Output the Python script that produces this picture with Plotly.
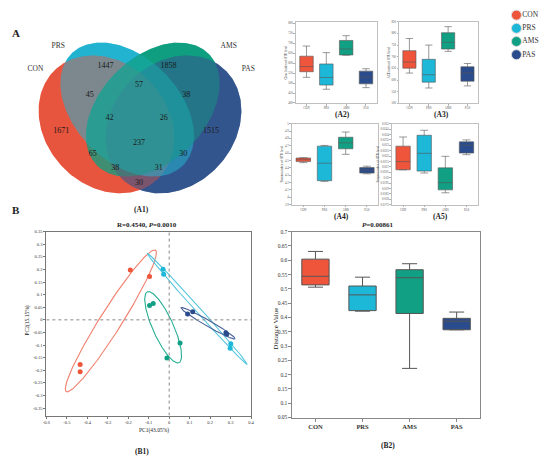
import numpy as np
import plotly.graph_objects as go

W, H = 550, 463
FONT = "Liberation Serif"

groups = ["CON", "PRS", "AMS", "PAS"]
group_colors = ["#EE553B", "#1DB7D8", "#11A083", "#2B4C8C"]

# ---------------- Venn (A1) ----------------
venn_counts = [1671, 1447, 1858, 1515, 45, 57, 38, 65, 30, 30, 42, 26, 237, 38, 31]
venn_label_x = [58, 103, 167, 210, 87, 137, 185, 90, 182, 137, 107, 162, 137, 113, 157]
venn_label_y = [130, 64, 64, 130, 93, 83, 93, 153, 153, 182, 116, 116, 142, 167, 167]
venn_set_x = [32, 55, 228, 248]
venn_set_y = [67, 44, 44, 67]
# ellipse geometry in pixel space: centre, semi-axes, angle (deg, y down)
venn_cx = [104, 125, 151, 172]
venn_cy = [123, 108, 108, 123]
venn_a = [76, 80, 80, 76]
venn_b = [62, 53, 53, 62]
venn_ang = [47, 45, 135, 133]
venn_solid = ["#E8563E", "#22B3D0", "#109E80", "#34558D"]
venn_glaze = ["rgba(232,86,62,0.4)", "rgba(34,179,208,0.55)",
              "rgba(16,158,128,0.45)", "rgba(52,85,141,0.6)"]
solid_order = [1, 0, 2, 3]
glaze_order = [3, 0, 1, 2]

# ---------------- Alpha diversity boxes (A2-A5) ----------------
a2_low = [529, 469, 640, 477]
a2_q1 = [557, 490, 641, 496]
a2_med = [583, 528, 671, 530]
a2_q3 = [635, 596, 714, 560]
a2_up = [686, 653, 738, 572]

a3_low = [630, 566, 723, 575]
a3_q1 = [651, 591, 733, 595]
a3_med = [677, 623, 762, 631]
a3_q3 = [726, 689, 803, 657]
a3_up = [778, 750, 829, 671]

a4_low = [4.471, 4.216, 4.584, 4.319]
a4_q1 = [4.485, 4.226, 4.659, 4.329]
a4_med = [4.511, 4.463, 4.740, 4.373]
a4_q3 = [4.534, 4.695, 4.816, 4.404]
a4_up = [4.538, 4.705, 4.887, 4.423]

a5_low = [0.02073, 0.02043, 0.01860, 0.02213]
a5_q1 = [0.02073, 0.02061, 0.01887, 0.02228]
a5_med = [0.02149, 0.02226, 0.01954, 0.02299]
a5_q3 = [0.02292, 0.02393, 0.02091, 0.02332]
a5_up = [0.02377, 0.02439, 0.02198, 0.02350]

# ---------------- PCoA (B1) ----------------
pc1 = {"CON": [-0.190, -0.096, -0.435, -0.435],
       "PRS": [-0.030, -0.027, 0.301, 0.298],
       "AMS": [-0.096, -0.078, 0.053, -0.011],
       "PAS": [0.090, 0.115, 0.277, 0.281]}
pc2 = {"CON": [0.198, 0.172, -0.177, -0.206],
       "PRS": [0.201, 0.181, -0.095, -0.113],
       "AMS": [0.057, 0.065, -0.092, -0.151],
       "PAS": [0.023, 0.032, -0.051, -0.057]}
# confidence ellipse: ends of the long axis (data units), half width in px
ell_tip1 = {"CON": (-0.503, -0.285), "PRS": (-0.107, 0.264), "AMS": (-0.107, 0.111), "PAS": (0.058, 0.048)}
ell_tip2 = {"CON": (-0.067, 0.277), "PRS": (0.382, -0.177), "AMS": (0.048, -0.170), "PAS": (0.322, -0.075)}
ell_half = {"CON": 11, "PRS": 2.5, "AMS": 10.5, "PAS": 3}
ell_colors = ["#F0806E", "#55C6DF", "#25AF92", "#4A6399"]

# ---------------- Distance boxes (B2) ----------------
b2_low = [0.506, 0.422, 0.222, 0.357]
b2_q1 = [0.514, 0.424, 0.414, 0.357]
b2_med = [0.544, 0.479, 0.539, 0.387]
b2_q3 = [0.604, 0.510, 0.567, 0.397]
b2_up = [0.631, 0.541, 0.588, 0.419]


def dx(a, b):
    return [a / W, b / W]


def dy(top, bot):
    return [1 - bot / H, 1 - top / H]


def px(x):
    return x / W


def py(y):
    return 1 - y / H


fig = go.Figure()

# Venn ellipses on pixel axis: opaque base pass, then translucent glaze pass
t = np.linspace(0, 2 * np.pi, 240)
venn_paths = []
for i in range(4):
    th = np.deg2rad(venn_ang[i])
    ex = venn_cx[i] + venn_a[i] * np.cos(t) * np.cos(th) - venn_b[i] * np.sin(t) * np.sin(th)
    ey = venn_cy[i] + venn_a[i] * np.cos(t) * np.sin(th) + venn_b[i] * np.sin(t) * np.cos(th)
    venn_paths.append((ex, ey))
for fills, order in ((venn_solid, solid_order), (venn_glaze, glaze_order)):
    for i in order:
        ex, ey = venn_paths[i]
        fig.add_trace(go.Scatter(x=ex, y=ey, mode="lines", fill="toself",
                                 fillcolor=fills[i], line=dict(width=0),
                                 hoverinfo="skip", showlegend=False,
                                 xaxis="x", yaxis="y"))
fig.add_trace(go.Scatter(x=venn_label_x, y=venn_label_y, mode="text",
                         text=[str(c) for c in venn_counts],
                         textfont=dict(family=FONT, size=8, color="#1a1a1a"),
                         showlegend=False, hoverinfo="skip", xaxis="x", yaxis="y"))
fig.add_trace(go.Scatter(x=venn_set_x, y=venn_set_y, mode="text", text=groups,
                         textfont=dict(family=FONT, size=7.5, color="#333"),
                         showlegend=False, hoverinfo="skip", xaxis="x", yaxis="y"))

# legend (top right) on pixel axis
leg_y = [12.3 + 13.35 * i for i in range(4)]
fig.add_trace(go.Scatter(x=[520] * 4, y=leg_y, mode="markers",
                         marker=dict(size=10, color=group_colors, line=dict(color="#dddddd", width=1)),
                         showlegend=False, hoverinfo="skip", xaxis="x", yaxis="y"))
fig.add_trace(go.Scatter(x=[526] * 4, y=leg_y, mode="text", text=groups,
                         textposition="middle right", cliponaxis=False,
                         textfont=dict(family=FONT, size=7.5, color="#333"),
                         showlegend=False, hoverinfo="skip", xaxis="x", yaxis="y"))


def add_boxes(xa, ya, low, q1, med, q3, up, width, lw):
    for i, g in enumerate(groups):
        fig.add_trace(go.Box(x=[g], lowerfence=[low[i]], q1=[q1[i]], median=[med[i]],
                             q3=[q3[i]], upperfence=[up[i]], width=width,
                             fillcolor=group_colors[i], line=dict(color="#555555", width=lw),
                             whiskerwidth=0.55, showlegend=False, hoverinfo="skip",
                             xaxis=xa, yaxis=ya))


add_boxes("x2", "y2", a2_low, a2_q1, a2_med, a2_q3, a2_up, 0.68, 0.6)
add_boxes("x3", "y3", a3_low, a3_q1, a3_med, a3_q3, a3_up, 0.68, 0.6)
add_boxes("x4", "y4", a4_low, a4_q1, a4_med, a4_q3, a4_up, 0.68, 0.6)
add_boxes("x5", "y5", a5_low, a5_q1, a5_med, a5_q3, a5_up, 0.68, 0.6)
add_boxes("x7", "y7", b2_low, b2_q1, b2_med, b2_q3, b2_up, 0.58, 1.0)

# PCoA
b1_dom_x = (43, 250.7)
b1_dom_y = (231.7, 418)
b1_xr = (-0.6, 0.4)
b1_yr = (-0.38, 0.35)
sx = (b1_dom_x[1] - b1_dom_x[0]) / (b1_xr[1] - b1_xr[0])
sy = (b1_dom_y[1] - b1_dom_y[0]) / (b1_yr[1] - b1_yr[0])
for i, g in enumerate(groups):
    t1 = np.array(ell_tip1[g])
    t2 = np.array(ell_tip2[g])
    c = (t1 + t2) / 2
    A = (t2 - t1) / 2
    Apx = np.array([A[0] * sx, -A[1] * sy])
    n = np.array([-Apx[1], Apx[0]]) / np.hypot(*Apx) * ell_half[g]
    B = np.array([n[0] / sx, -n[1] / sy])
    ex = c[0] + A[0] * np.cos(t) + B[0] * np.sin(t)
    ey = c[1] + A[1] * np.cos(t) + B[1] * np.sin(t)
    fig.add_trace(go.Scatter(x=ex, y=ey, mode="lines", line=dict(color=ell_colors[i], width=1.1),
                             showlegend=False, hoverinfo="skip", xaxis="x6", yaxis="y6"))
for i, g in enumerate(groups):
    fig.add_trace(go.Scatter(x=pc1[g], y=pc2[g], mode="markers",
                             marker=dict(size=5, color=group_colors[i]),
                             showlegend=False, hoverinfo="skip", xaxis="x6", yaxis="y6"))

tickfont_small = dict(family=FONT, size=3, color="#555")


def small_axes(xdom, ydom, yr, yticks, ytitle):
    xa = dict(domain=dx(*xdom), showline=True, mirror=True, linecolor="#b0b0b0", linewidth=0.8,
              ticks="outside", ticklen=1.5, tickcolor="#b0b0b0", tickfont=tickfont_small,
              showgrid=False, zeroline=False, fixedrange=True)
    ya = dict(domain=dy(*ydom), range=yr, showline=True, mirror=True, linecolor="#b0b0b0",
              linewidth=0.8, ticks="outside", ticklen=1.5, tickcolor="#b0b0b0",
              tickvals=yticks, ticktext=[("%g" % v) for v in yticks], tickfont=tickfont_small,
              showgrid=False, zeroline=False,
              title=dict(text=ytitle, font=dict(family=FONT, size=3.2, color="#444"), standoff=1))
    return xa, ya


a2x, a2y = small_axes((296, 378.3), (19, 101.7), [398, 808], list(range(400, 801, 50)), "Chao1 index of OTU level")
a3x, a3y = small_axes((400.7, 481), (19, 101.7), [500, 850], list(range(500, 851, 50)), "ACE index of OTU level")
a4x, a4y = small_axes((292, 380), (122.3, 204.3), [3.9, 5.0], [round(3.9 + 0.1 * k, 1) for k in range(12)], "Shannon index of OTU level")
a5x, a5y = small_axes((393.3, 481), (122.3, 204.3), [0.0175, 0.025], [round(0.0175 + 0.0005 * k, 4) for k in range(16)], "Simpson index of OTU level")

b1_xticks = [round(-0.6 + 0.1 * k, 1) for k in range(11)]
b1_yticks = [round(-0.35 + 0.05 * k, 2) for k in range(15)]
b2_yticks = [round(0.05 + 0.05 * k, 2) for k in range(14)]

layout = dict(
    width=W, height=H, margin=dict(l=0, r=0, t=0, b=0),
    paper_bgcolor="white", plot_bgcolor="rgba(0,0,0,0)", showlegend=False,
    boxmode="overlay",
    font=dict(family=FONT, color="#222"),
    xaxis=dict(domain=[0, 1], range=[0, W], visible=False, fixedrange=True),
    yaxis=dict(domain=dy(0, 215), range=[215, 0], visible=False, fixedrange=True),
    xaxis2=dict(a2x, anchor="y2"), yaxis2=dict(a2y, anchor="x2"),
    xaxis3=dict(a3x, anchor="y3"), yaxis3=dict(a3y, anchor="x3"),
    xaxis4=dict(a4x, anchor="y4"), yaxis4=dict(a4y, anchor="x4"),
    xaxis5=dict(a5x, anchor="y5"), yaxis5=dict(a5y, anchor="x5"),
    xaxis6=dict(domain=dx(*b1_dom_x), range=list(b1_xr), anchor="y6", showline=True, mirror=True,
                linecolor="#777", linewidth=1, ticks="outside", ticklen=2, tickcolor="#777",
                tickvals=b1_xticks, ticktext=[("%g" % v) for v in b1_xticks],
                tickfont=dict(family=FONT, size=4.5, color="#333"), showgrid=False, zeroline=False),
    yaxis6=dict(domain=dy(*b1_dom_y), range=list(b1_yr), anchor="x6", showline=True, mirror=True,
                linecolor="#777", linewidth=1, ticks="outside", ticklen=2, tickcolor="#777",
                tickvals=b1_yticks, ticktext=[("%g" % v) for v in b1_yticks],
                tickfont=dict(family=FONT, size=4.5, color="#333"), showgrid=False, zeroline=False),
    xaxis7=dict(domain=dx(292.7, 482.7), anchor="y7", showline=True, mirror=True,
                linecolor="#888", linewidth=1, ticks="outside", ticklen=3, tickcolor="#888",
                tickvals=groups, ticktext=["<b>%s</b>" % g for g in groups],
                tickfont=dict(family=FONT, size=6.5, color="#333"), showgrid=False, zeroline=False),
    yaxis7=dict(domain=dy(231.7, 420), range=[0.05, 0.7], anchor="x7", showline=True, mirror=True,
                linecolor="#888", linewidth=1, ticks="outside", ticklen=3, tickcolor="#888",
                tickvals=b2_yticks, ticktext=[("%g" % v) for v in b2_yticks],
                tickfont=dict(family=FONT, size=5.5, color="#333"), showgrid=False, zeroline=False),
)
fig.update_layout(**layout)

# dotted reference lines in PCoA
fig.add_shape(type="line", xref="x6", yref="y6", x0=0, x1=0, y0=b1_yr[0], y1=b1_yr[1],
              line=dict(color="#888", width=1, dash="dot"))
fig.add_shape(type="line", xref="x6", yref="y6", x0=b1_xr[0], x1=b1_xr[1], y0=0, y1=0,
              line=dict(color="#888", width=1, dash="dot"))


def ann(text, x, y, size, bold=False, angle=0, color="#222"):
    fig.add_annotation(text=("<b>%s</b>" % text) if bold else text, x=px(x), y=py(y),
                       xref="paper", yref="paper", showarrow=False, textangle=angle,
                       xanchor="center", yanchor="middle",
                       font=dict(family=FONT, size=size, color=color))


ann("A", 12, 30, 11, bold=True)
ann("B", 12, 210, 11, bold=True)
ann("(A1)", 140, 209, 7.5, bold=True)
ann("(A2)", 343, 113, 7.5, bold=True)
ann("(A3)", 444, 113, 7.5, bold=True)
ann("(A4)", 342, 216, 7.5, bold=True)
ann("(A5)", 443, 216, 7.5, bold=True)
ann("(B1)", 140, 454, 7.5, bold=True)
ann("(B2)", 390, 448, 7.5, bold=True)
ann("R=0.4540, <i>P</i>=0.0010", 145, 225, 7, bold=True)
ann("<i>P</i>=0.00861", 380, 225, 7, bold=True)
ann("PC1(43.05%)", 152, 433, 5.5)
ann("PC2(15.15%)", 24, 322, 5.5, angle=-90)
ann("Distance Value", 276, 330, 7, angle=-90)

fig.write_html("out.html", config={"displayModeBar": False, "staticPlot": True},
               post_script="document.body.style.margin='0';document.body.style.overflow='hidden';")
